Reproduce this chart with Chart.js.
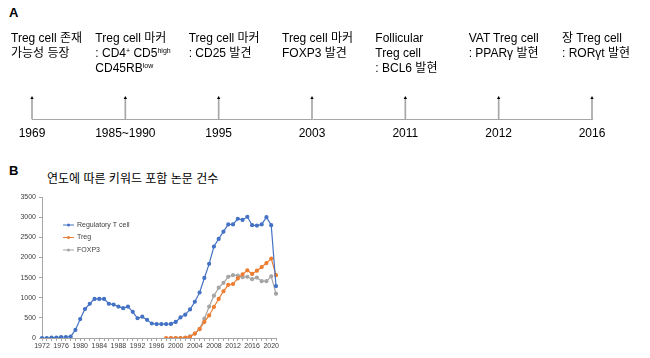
<!DOCTYPE html>
<html lang="ko">
<head>
<meta charset="utf-8">
<script src="https://cdn.jsdelivr.net/npm/chart.js@4.4.1/dist/chart.umd.min.js"></script>
<style>
  body { margin: 0; width: 650px; height: 358px; background: #fff; position: relative; overflow: hidden;
         font-family: "Liberation Sans", "Noto Sans CJK KR", Arial, sans-serif; color: #000; }
  .panel { position: absolute; font-weight: bold; font-size: 13px; }
  .event { position: absolute; font-size: 12px; line-height: 15px; white-space: nowrap; }
  .event sup { font-size: 7px; vertical-align: 4px; line-height: 0; }
  #timeline { position: absolute; left: 0; top: 0; }
  #paperChart { position: absolute; left: 0; top: 185px; }
  #titleB { position: absolute; left: 47px; top: 169px; font-size: 12px; }
</style>
</head>
<body>
<div class="panel" style="left:9px; top:5px;">A</div>
<div class="panel" style="left:9px; top:163px;">B</div>
<div id="titleB">연도에 따른 키워드 포함 논문 건수</div>
<canvas id="timeline" width="650" height="160"></canvas>
<canvas id="paperChart" width="300" height="173"></canvas>
<script>
// 타임라인 (A)
const milestoneYears = ['1969', '1985~1990', '1995', '2003', '2011', '2012', '2016'];
const milestoneText = [
    'Treg cell 존재<br>가능성 등장',
    'Treg cell 마커<br>: CD4<sup>+</sup> CD5<sup>high</sup><br>CD45RB<sup>low</sup>',
    'Treg cell 마커<br>: CD25 발견',
    'Treg cell 마커<br>FOXP3 발견',
    'Follicular<br>Treg cell<br>: BCL6 발현',
    'VAT Treg cell<br>: PPARγ 발현',
    '장 Treg cell<br>: RORγt 발현'
];
const stemHeight = [1, 1, 1, 1, 1, 1, 1];

// 논문 건수 (B)
const years = ['1972', '1973', '1974', '1975', '1976', '1977', '1978', '1979', '1980', '1981',
    '1982', '1983', '1984', '1985', '1986', '1987', '1988', '1989', '1990', '1991',
    '1992', '1993', '1994', '1995', '1996', '1997', '1998', '1999', '2000', '2001',
    '2002', '2003', '2004', '2005', '2006', '2007', '2008', '2009', '2010', '2011',
    '2012', '2013', '2014', '2015', '2016', '2017', '2018', '2019', '2020', '2021'];
const xTickLabels = ['1972', '1976', '1980', '1984', '1988', '1992', '1996', '2000', '2004', '2008', '2012', '2016', '2020'];
const regulatoryTCell = [0, 0, 10, 10, 25, 25, 35, 200, 470, 720,
    850, 970, 970, 970, 850, 830, 780, 740, 780, 650,
    490, 530, 450, 360, 345, 345, 345, 350, 400, 510,
    580, 710, 900, 1130, 1490, 1840, 2270, 2460, 2640, 2820,
    2820, 2960, 2930, 3010, 2800, 2790, 2820, 3000, 2800, 1290];
const treg = [null, null, null, null, null, null, null, null, null, null,
    null, null, null, null, null, null, null, null, null, null,
    null, null, null, null, null, null, 0, 0, 0, 0,
    5, 30, 110, 220, 400, 560, 770, 970, 1160, 1320,
    1340, 1480, 1580, 1680, 1590, 1670, 1760, 1860, 1970, 1560];
const foxp3 = [null, null, null, null, null, null, null, null, null, null,
    null, null, null, null, null, null, null, null, null, null,
    null, null, null, null, null, null, null, 0, 0, 0,
    10, 40, 110, 230, 480, 780, 1050, 1250, 1370, 1520,
    1560, 1550, 1510, 1520, 1460, 1500, 1410, 1410, 1530, 1100];

Chart.defaults.font.family = '"Liberation Sans", "Noto Sans CJK KR", Arial, sans-serif';

const axisGray = '#a6a6a6';

const timeline = new Chart(document.getElementById('timeline'), {
    type: 'bar',
    data: {
        labels: milestoneYears,
        datasets: [
            {
                type: 'line',
                data: stemHeight,
                showLine: false,
                pointStyle: 'triangle',
                pointRadius: 2,
                backgroundColor: '#000',
                borderColor: '#000',
                borderWidth: 0,
                clip: false
            },
            {
                type: 'bar',
                data: stemHeight,
                backgroundColor: axisGray,
                barThickness: 1,
                clip: false
            }
        ]
    },
    options: {
        responsive: false,
        animation: false,
        events: [],
        layout: { padding: { left: 32, right: 58, top: 98, bottom: 0 } },
        plugins: { legend: { display: false }, tooltip: { enabled: false } },
        scales: {
            x: {
                offset: false,
                afterFit(s) { s.height = 41; },
                grid: { display: false, drawTicks: false },
                border: { display: true, color: axisGray, width: 1 },
                ticks: { padding: 7, color: '#000', font: { size: 12 }, maxRotation: 0, autoSkip: false }
            },
            y: { display: false, min: 0, max: 1 }
        }
    }
});

// 이벤트 설명 텍스트
milestoneText.forEach((html, i) => {
    const x = timeline.scales.x.getPixelForValue(i);
    const div = document.createElement('div');
    div.className = 'event';
    div.innerHTML = html;
    div.style.left = Math.max(11, x - 30) + 'px';
    div.style.top = '31px';
    document.body.appendChild(div);
});

// 차트 내부 범례
const insideLegend = {
    id: 'insideLegend',
    afterDatasetsDraw(chart) {
        const ctx = chart.ctx;
        const area = chart.chartArea;
        ctx.save();
        ctx.font = '7px "Liberation Sans", Arial, sans-serif';
        ctx.textBaseline = 'middle';
        chart.data.datasets.forEach((ds, i) => {
            const y = area.top + 28 + i * 12.5;
            const x = area.left + 21;
            ctx.strokeStyle = ds.borderColor;
            ctx.lineWidth = 1;
            ctx.beginPath();
            ctx.moveTo(x, y);
            ctx.lineTo(x + 11, y);
            ctx.stroke();
            ctx.fillStyle = ds.borderColor;
            ctx.beginPath();
            ctx.arc(x + 5.5, y, 1.5, 0, Math.PI * 2);
            ctx.fill();
            ctx.fillStyle = '#404040';
            ctx.fillText(ds.label, x + 14, y);
        });
        ctx.restore();
    }
};

new Chart(document.getElementById('paperChart'), {
    type: 'line',
    data: {
        labels: years,
        datasets: [
            {
                label: 'Regulatory T cell',
                data: regulatoryTCell,
                borderColor: '#4472c4',
                backgroundColor: '#4472c4',
                borderWidth: 1.2,
                pointRadius: 1.5,
                tension: 0
            },
            {
                label: 'Treg',
                data: treg,
                borderColor: '#ed7d31',
                backgroundColor: '#ed7d31',
                borderWidth: 1.2,
                pointRadius: 1.5,
                tension: 0
            },
            {
                label: 'FOXP3',
                data: foxp3,
                borderColor: '#a5a5a5',
                backgroundColor: '#a5a5a5',
                borderWidth: 1.2,
                pointRadius: 1.5,
                tension: 0
            }
        ]
    },
    options: {
        responsive: false,
        animation: false,
        events: [],
        layout: { padding: { left: 0, right: 24, top: 12, bottom: 0 } },
        plugins: { legend: { display: false }, tooltip: { enabled: false } },
        scales: {
            x: {
                offset: false,
                afterFit(s) { s.height = 20; },
                grid: { display: true, drawOnChartArea: false, tickLength: 3, color: axisGray },
                border: { color: axisGray },
                ticks: {
                    autoSkip: false,
                    maxRotation: 0,
                    padding: 1,
                    color: '#404040',
                    font: { size: 7 },
                    callback: (v, i) => xTickLabels.includes(years[i]) ? years[i] : ''
                }
            },
            y: {
                min: 0,
                max: 3500,
                afterFit(s) { s.width = 42; },
                grid: { display: true, drawOnChartArea: false, tickLength: 3, color: axisGray },
                border: { color: axisGray },
                ticks: { stepSize: 500, padding: 3, color: '#404040', font: { size: 7 }, callback: v => String(v) }
            }
        }
    },
    plugins: [insideLegend]
});
</script>
</body>
</html>
